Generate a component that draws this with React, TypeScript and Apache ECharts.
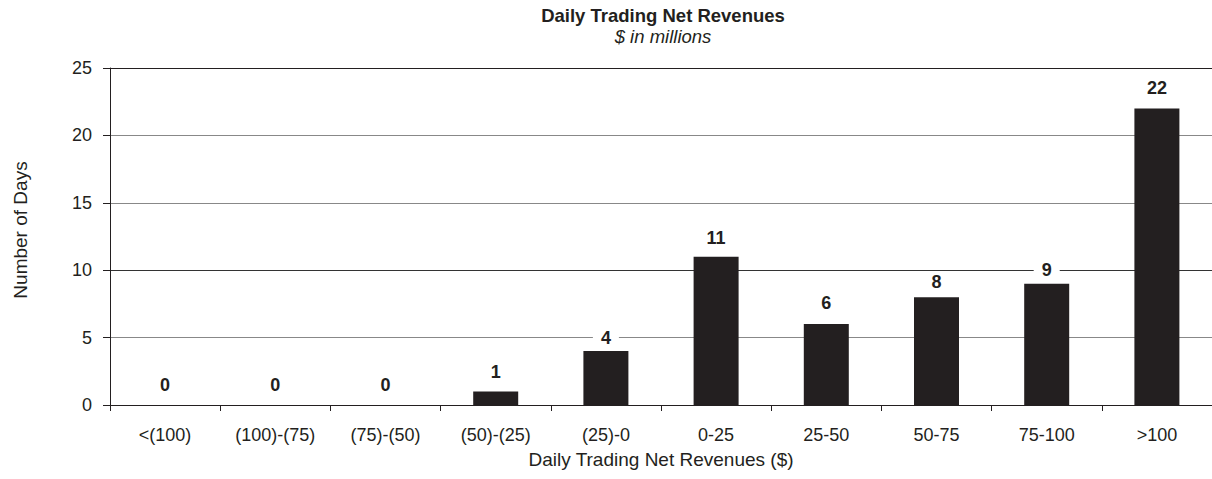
import React, { useEffect, useRef } from "react";
import * as echarts from "echarts";

const categories = ["<(100)", "(100)-(75)", "(75)-(50)", "(50)-(25)", "(25)-0", "0-25", "25-50", "50-75", "75-100", ">100"];
const days = [0, 0, 0, 1, 4, 11, 6, 8, 9, 22];
const yTicks = { min: 0, max: 25, interval: 5 };
const titleText = "Daily Trading Net Revenues";
const subtitleText = "$ in millions";
const xName = "Daily Trading Net Revenues ($)";
const yName = "Number of Days";

// label gap above each bar (style only)
const labelGaps = [11, 11, 11, 11, 4, 10, 12, 6, 5, 11];

const FONT = "Arial, 'Liberation Sans', Helvetica, sans-serif";
const INK = "#231f20";

export default function App() {
  const ref = useRef<HTMLDivElement>(null);
  useEffect(() => {
    if (!ref.current) return;
    const chart = echarts.init(ref.current, null, { renderer: "svg" });
    chart.setOption({
      animation: false,
      backgroundColor: "#fff",
      textStyle: { fontFamily: FONT, color: INK },
      graphic: [
        {
          type: "text",
          x: 663,
          y: 15,
          style: { text: titleText, font: `bold 18.5px ${FONT}`, fill: INK, align: "center", verticalAlign: "middle" },
        },
        {
          type: "text",
          x: 663,
          y: 36,
          style: { text: subtitleText, font: `italic 18.5px ${FONT}`, fill: INK, align: "center", verticalAlign: "middle" },
        },
        {
          type: "text",
          x: 20,
          y: 230,
          rotation: Math.PI / 2,
          style: { text: yName, font: `19px ${FONT}`, fill: INK, align: "center", verticalAlign: "middle" },
        },
      ],
      grid: { left: 110, right: -4, top: 68, bottom: 74, containLabel: false },
      xAxis: {
        type: "category",
        data: categories,
        name: xName,
        nameLocation: "middle",
        nameGap: 45,
        nameTextStyle: { fontSize: 19, color: INK, fontFamily: FONT },
        axisLine: { show: true, lineStyle: { color: INK, width: 1 } },
        axisTick: { show: true, length: 6, lineStyle: { color: INK } },
        axisLabel: { fontSize: 18, color: INK, margin: 21, fontFamily: FONT, interval: 0 },
      },
      yAxis: {
        type: "value",
        min: yTicks.min,
        max: yTicks.max,
        interval: yTicks.interval,
        axisLine: { show: true, lineStyle: { color: INK, width: 1 } },
        axisTick: { show: true, length: 7, lineStyle: { color: INK } },
        axisLabel: { fontSize: 18, color: INK, margin: 18, fontFamily: FONT },
        splitLine: {
          show: true,
          lineStyle: { color: [INK, "#888", "#333", "#888", "#888", INK], width: 1 },
        },
      },
      series: [
        {
          type: "bar",
          data: days.map((v, i) => ({ value: v, label: { distance: labelGaps[i] } })),
          barWidth: 45,
          itemStyle: { color: INK },
          label: {
            show: true,
            position: "top",
            distance: 11,
            fontSize: 18,
            fontWeight: "bold",
            color: INK,
            fontFamily: FONT,
            backgroundColor: "#fff",
            padding: [0, 8],
          },
        },
      ],
    });
    return () => chart.dispose();
  }, []);
  return <div ref={ref} style={{ width: 1212, height: 479, position: "absolute", left: 0, top: 0 }} />;
}
